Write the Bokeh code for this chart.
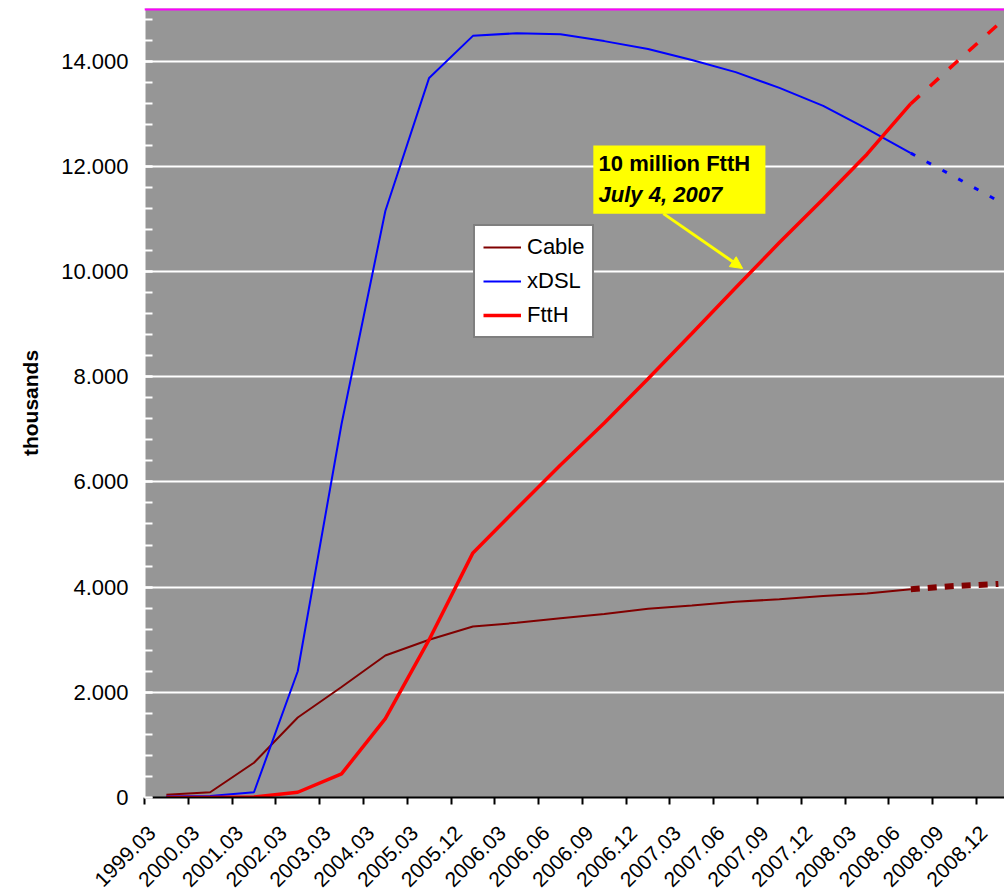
import math
from bokeh.plotting import figure
from bokeh.models import (Range1d, FixedTicker, Span, Legend, LegendItem, Label,
                          BoxAnnotation, Arrow, NormalHead)
from bokeh.embed import file_html
from bokeh.resources import INLINE

# ---------------- data ----------------
categories = ["1999.03", "2000.03", "2001.03", "2002.03", "2003.03", "2004.03",
              "2005.03", "2005.12", "2006.03", "2006.06", "2006.09", "2006.12",
              "2007.03", "2007.06", "2007.09", "2007.12", "2008.03", "2008.06",
              "2008.09", "2008.12"]
cable = [50, 100, 660, 1520, 2100, 2700, 3000, 3250, 3320, 3410, 3490, 3590,
         3650, 3720, 3770, 3830, 3880, 3960, 4020, 4060]
xdsl = [20, 30, 100, 2400, 7100, 11150, 13680, 14480, 14530, 14510, 14380, 14230,
        14020, 13790, 13490, 13150, 12710, 12250, 11800, 11340]
ftth = [0, 0, 10, 100, 450, 1500, 3000, 4650, 5490, 6320, 7120, 7960,
        8820, 9690, 10550, 11380, 12230, 13190, 13950, 14700]
last_actual = 17  # index of 2008.06; later points are forecasts (dashed)

y_ticks = [0, 2000, 4000, 6000, 8000, 10000, 12000, 14000]
y_tick_labels = ["0", "2.000", "4.000", "6.000", "8.000", "10.000", "12.000", "14.000"]
y_max = 15000

note_line1 = "10 million FttH"
note_line2 = "July 4, 2007"

x = list(range(len(categories)))
FONT = "Liberation Sans"
LABEL_SHIFT = 0.33  # rotated labels end slightly left of the category centre

p = figure(frame_width=860, frame_height=789,
           min_border_left=144, min_border_right=0, min_border_top=8, min_border_bottom=97,
           x_range=Range1d(-0.5, 19.14), y_range=Range1d(0, y_max),
           output_backend="svg", toolbar_location=None)
p.background_fill_color = "#969696"
p.border_fill_color = "white"
p.outline_line_color = None

# x axis
label_pos = [i - LABEL_SHIFT for i in x]
p.xaxis.ticker = FixedTicker(ticks=label_pos, minor_ticks=[i - 0.5 for i in range(len(categories) + 1)])
p.xaxis.major_label_overrides = {pos: c for pos, c in zip(label_pos, categories)}
p.xaxis.major_label_orientation = math.pi / 4
p.xaxis.major_tick_in = 0
p.xaxis.major_tick_out = 0
p.xaxis.minor_tick_in = 0
p.xaxis.minor_tick_out = 7
p.xaxis.minor_tick_line_color = "black"
p.xaxis.minor_tick_line_width = 2
p.xaxis.axis_line_color = "black"
p.xaxis.axis_line_width = 2
p.xaxis.major_label_text_font = FONT
p.xaxis.major_label_text_font_size = "21px"
p.xaxis.major_label_text_color = "black"
p.xaxis.major_label_standoff = 25
p.xgrid.grid_line_color = None

# y axis
p.yaxis.ticker = FixedTicker(ticks=y_ticks, minor_ticks=list(range(0, y_max + 1, 400)))
p.yaxis.major_label_overrides = {t: l for t, l in zip(y_ticks, y_tick_labels)}
p.yaxis.major_tick_in = 8
p.yaxis.major_tick_out = 0
p.yaxis.major_tick_line_color = "white"
p.yaxis.major_tick_line_width = 2
p.yaxis.minor_tick_in = 8
p.yaxis.minor_tick_out = 0
p.yaxis.minor_tick_line_color = "white"
p.yaxis.minor_tick_line_width = 2
p.yaxis.axis_line_color = "white"
p.yaxis.axis_line_width = 2
p.yaxis.major_label_text_font = FONT
p.yaxis.major_label_text_font_size = "22px"
p.yaxis.major_label_text_color = "black"
p.yaxis.major_label_standoff = 16
p.yaxis.axis_label = "thousands"
p.yaxis.axis_label_text_font = FONT
p.yaxis.axis_label_text_font_size = "21px"
p.yaxis.axis_label_text_font_style = "bold"
p.yaxis.axis_label_text_color = "black"
p.yaxis.axis_label_standoff = 16
p.ygrid.grid_line_color = "white"
p.ygrid.grid_line_width = 2

p.add_layout(Span(location=y_max, dimension="width", line_color="#ff00ff", line_width=4))

# series
a = last_actual
r_cable = p.line(x[:a + 1], cable[:a + 1], line_color="#800000", line_width=2)
p.line(x[a:], cable[a:], line_color="#800000", line_width=6, line_dash="9 8")
r_xdsl = p.line(x[:a + 1], xdsl[:a + 1], line_color="#0000ff", line_width=2)
p.line(x[a:], xdsl[a:], line_color="#0000ff", line_width=3, line_dash="5 13")
r_ftth = p.line(x[:a + 1], ftth[:a + 1], line_color="#ff0000", line_width=3.5)
p.line(x[a:], ftth[a:], line_color="#ff0000", line_width=3.5, line_dash="12 14")

legend = Legend(items=[LegendItem(label="Cable", renderers=[r_cable]),
                       LegendItem(label="xDSL", renderers=[r_xdsl]),
                       LegendItem(label="FttH", renderers=[r_ftth])],
                location=(329, 459))
legend.border_line_color = "black"
legend.border_line_width = 2
legend.background_fill_color = "white"
legend.background_fill_alpha = 1
legend.label_text_font = FONT
legend.label_text_font_size = "22px"
legend.label_text_color = "black"
legend.glyph_width = 38
legend.glyph_height = 22
legend.label_height = 22
legend.spacing = 8
legend.padding = 8
legend.margin = 0
legend.label_standoff = 6
p.add_layout(legend)

# annotation
p.add_layout(BoxAnnotation(left=9.75, right=13.68, bottom=11100, top=12395,
                           fill_color="#ffff00", fill_alpha=1, line_color=None))
p.add_layout(Label(x=9.87, y=12053, text=note_line1, text_font=FONT, text_font_size="22px",
                   text_font_style="bold", text_color="black", text_baseline="middle"))
p.add_layout(Label(x=9.87, y=11464, text=note_line2, text_font=FONT, text_font_size="22px",
                   text_font_style="bold italic", text_color="black", text_baseline="middle"))
p.add_layout(Arrow(end=NormalHead(size=12, fill_color="#ffff00", line_color="#ffff00"),
                   x_start=11.35, y_start=11100, x_end=13.16, y_end=10057,
                   line_color="#ffff00", line_width=3))

open("out.html", "w").write(file_html(p, INLINE))
